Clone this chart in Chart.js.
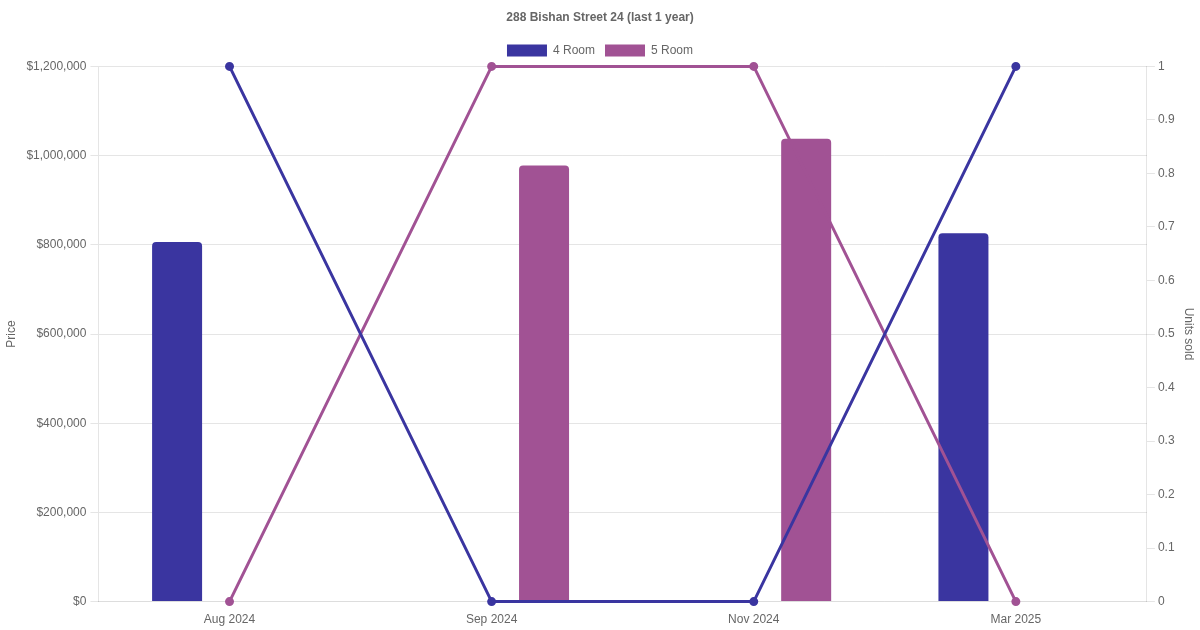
<!DOCTYPE html>
<html>
<head>
<meta charset="utf-8">
<script src="https://cdn.jsdelivr.net/npm/chart.js@4"></script>
<style>
  body { margin: 0; background: #fff; }
  .wrap { width: 1200px; height: 630px; }
</style>
</head>
<body>
<div class="wrap"><canvas class="myChart"></canvas></div>
<script>
// data gelezen uit de grafiek
const months = ["Aug 2024", "Sep 2024", "Nov 2024", "Mar 2025"];
const price4Room = [806000, null, null, 826000];
const price5Room = [null, 978000, 1038000, null];
const units4Room = [1, 0, 0, 1];
const units5Room = [0, 1, 1, 0];

const blue = "#3a35a0";
const purple = "#a15294";

Chart.defaults.font.family = "'Liberation Sans', Arial, sans-serif";
Chart.defaults.font.size = 12;
Chart.defaults.color = "#666";

const myChart = document.querySelector(".myChart");

new Chart(myChart, {
  type: "bar",
  data: {
    labels: months,
    datasets: [
      {
        type: "line",
        label: "4 Room units",
        data: units4Room,
        yAxisID: "y1",
        borderColor: blue,
        backgroundColor: blue,
        borderWidth: 3,
        pointRadius: 3,
        clip: false,
        order: 0
      },
      {
        type: "line",
        label: "5 Room units",
        data: units5Room,
        yAxisID: "y1",
        borderColor: purple,
        backgroundColor: purple,
        borderWidth: 3,
        pointRadius: 3,
        clip: false,
        order: 0
      },
      {
        label: "4 Room",
        data: price4Room,
        yAxisID: "y",
        backgroundColor: blue,
        borderRadius: 4,
        borderSkipped: "bottom",
        maxBarThickness: 50,
        order: 1
      },
      {
        label: "5 Room",
        data: price5Room,
        yAxisID: "y",
        backgroundColor: purple,
        borderRadius: 4,
        borderSkipped: "bottom",
        maxBarThickness: 50,
        order: 1
      }
    ]
  },
  options: {
    responsive: true,
    maintainAspectRatio: false,
    animation: false,
    plugins: {
      title: {
        display: true,
        text: "288 Bishan Street 24 (last 1 year)",
        font: { size: 12, weight: "bold" },
        padding: { top: 10, bottom: 10 }
      },
      legend: {
        labels: {
          filter: item => item.text === "4 Room" || item.text === "5 Room"
        }
      }
    },
    scales: {
      x: {
        grid: { display: false },
        border: { color: "#ddd" }
      },
      y: {
        position: "left",
        min: 0,
        max: 1200000,
        ticks: {
          stepSize: 200000,
          padding: 4,
          callback: v => "$" + v.toLocaleString("en-US")
        },
        title: { display: true, text: "Price" },
        grid: { color: "#e5e5e5" }
      },
      y1: {
        position: "right",
        min: 0,
        max: 1,
        ticks: {
          stepSize: 0.1,
          callback: v => String(Math.round(v * 10) / 10)
        },
        title: { display: true, text: "Units sold" },
        grid: { drawOnChartArea: false }
      }
    }
  }
});
</script>
</body>
</html>
